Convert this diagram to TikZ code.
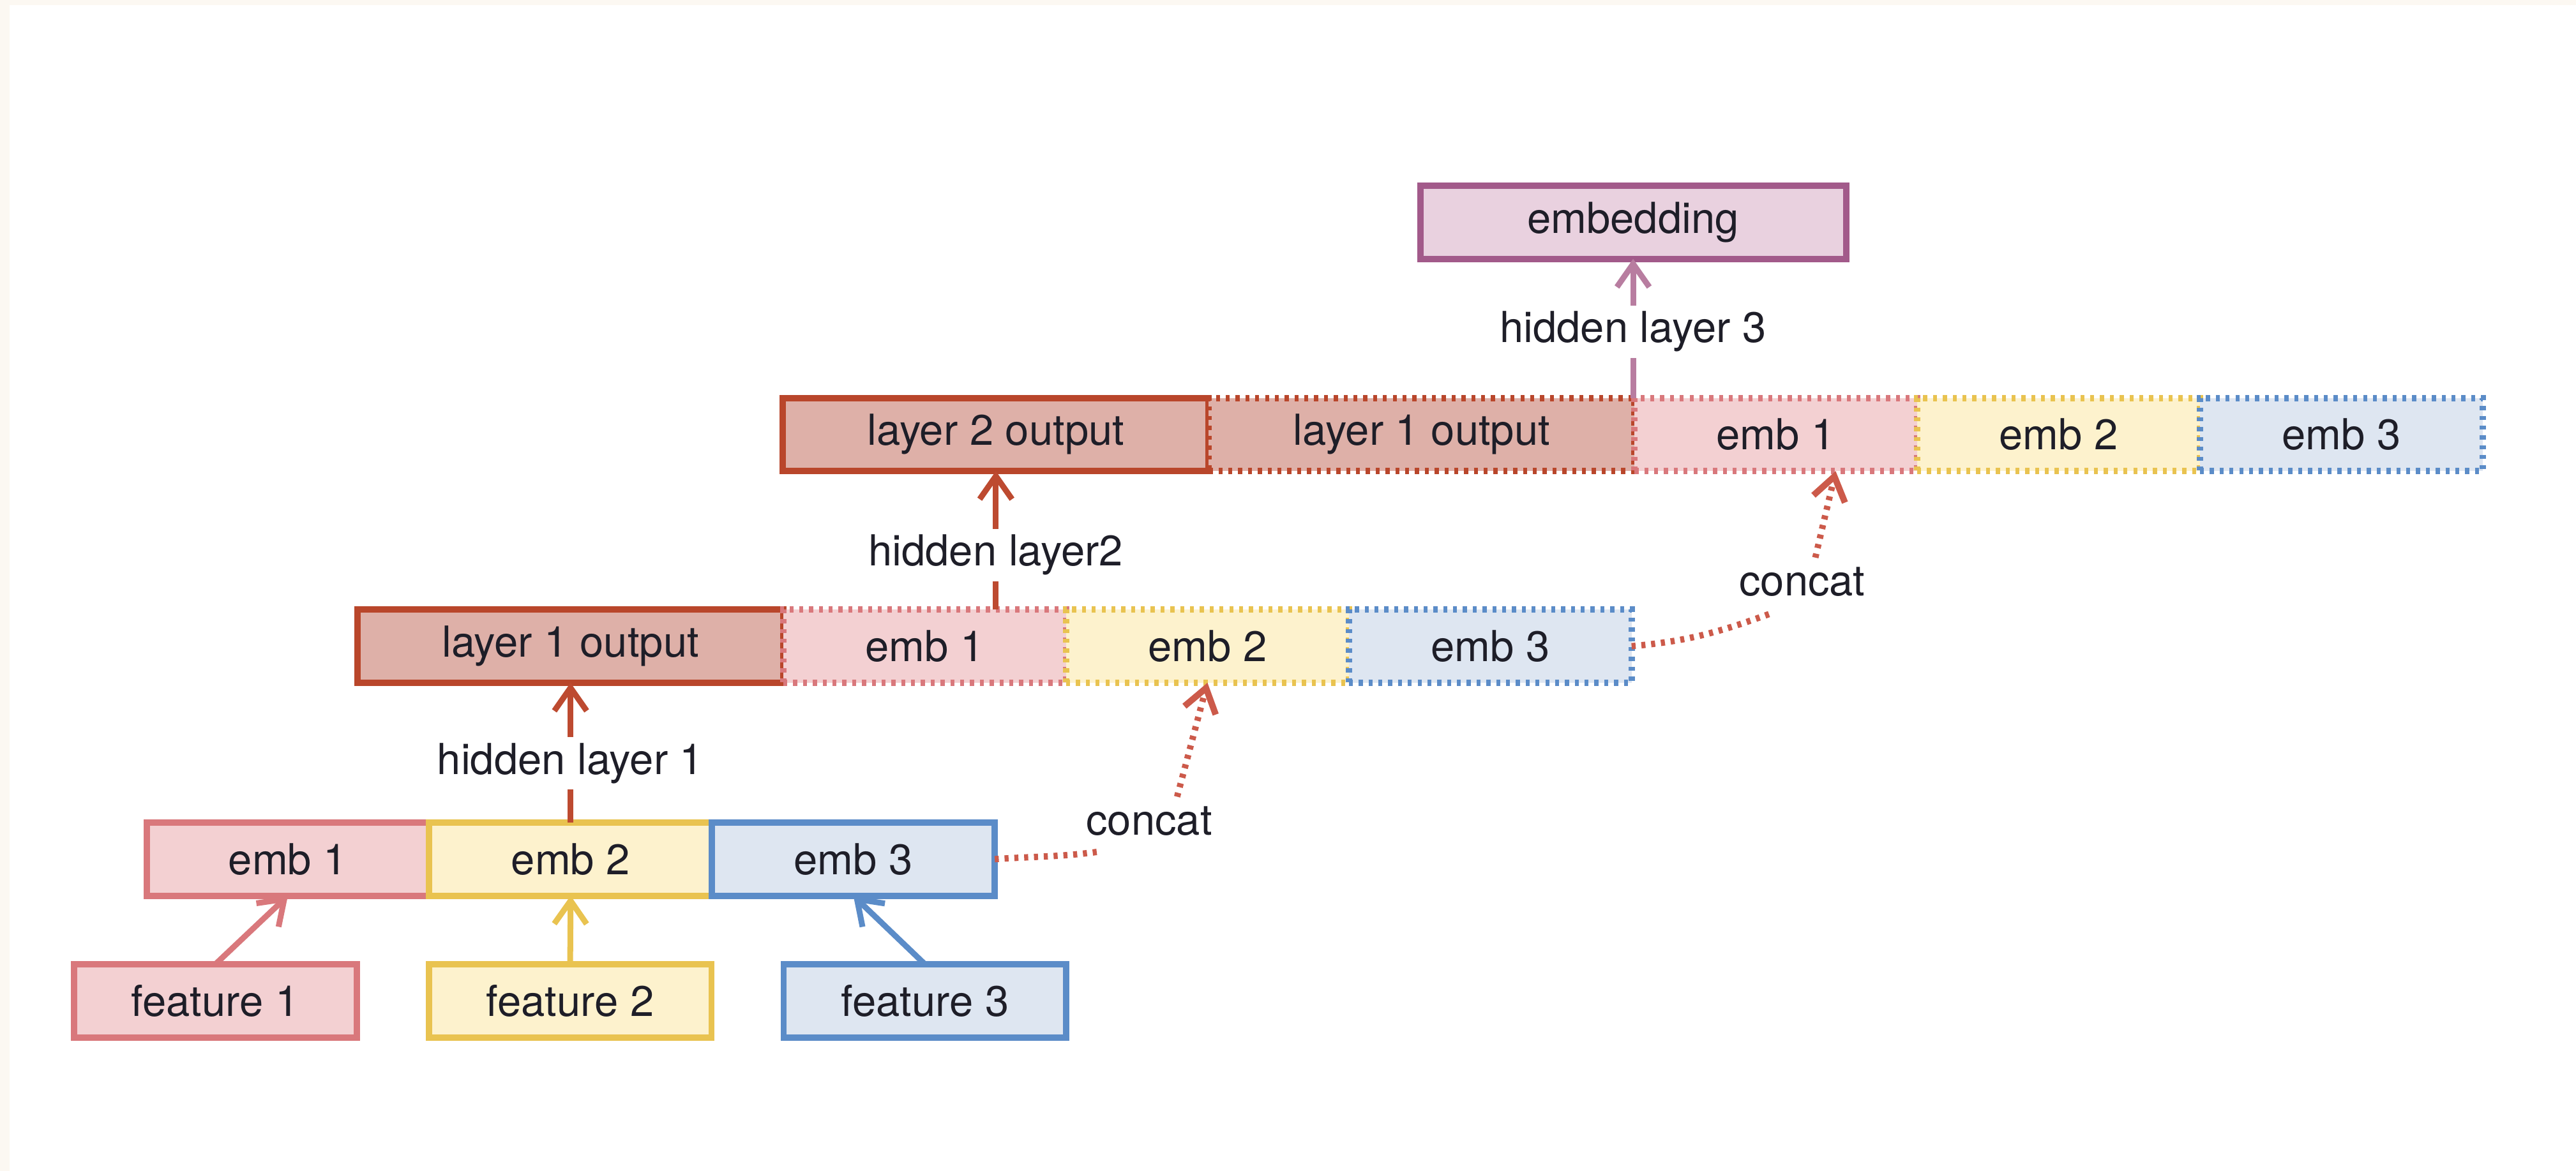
\documentclass[tikz,border=0pt]{standalone}
\usepackage{fontspec}
\setmainfont{TeX Gyre Heros}
\usetikzlibrary{arrows.meta,calc}

\definecolor{pinkF}{HTML}{F3D0D2}
\definecolor{pinkD}{HTML}{D9787C}
\definecolor{yelF}{HTML}{FDF2CD}
\definecolor{yelD}{HTML}{E9C350}
\definecolor{bluF}{HTML}{DEE6F1}
\definecolor{bluD}{HTML}{5B8CC8}
\definecolor{outF}{HTML}{DEB0A8}
\definecolor{outD}{HTML}{B9462B}
\definecolor{embF}{HTML}{E9D1DF}
\definecolor{embD}{HTML}{A25A8A}
\definecolor{hidA}{HTML}{BD4A30}
\definecolor{catA}{HTML}{CC5A4A}
\definecolor{topA}{HTML}{B87DA0}
\definecolor{txt}{HTML}{1E1E28}
\definecolor{margin}{HTML}{FCF8F2}

\begin{document}
\begin{tikzpicture}[x=0.01cm, y=0.01cm,
  font=\fontsize{7.4}{9}\selectfont, text=txt,
  box/.style={draw, line width=1.1pt, inner sep=0pt, outer sep=0pt, minimum height=0.445cm, anchor=west},
  narrow/.style={box, minimum width=1.72cm},
  wide/.style={box, minimum width=2.59cm},
  dotline/.style={line width=1.1pt, dash pattern=on 0.7pt off 1pt},
  dotbox/.style={dotline},
  pinkbox/.style={fill=pinkF, draw=pinkD},
  yelbox/.style={fill=yelF, draw=yelD},
  blubox/.style={fill=bluF, draw=bluD},
  outbox/.style={fill=outF, draw=outD},
  embbox/.style={fill=embF, draw=embD},
  lbl/.style={fill=white, inner sep=1.1pt, text height=5.3pt, text depth=1.55pt},
  tip/.style={-{Straight Barb[length=4pt,width=5.6pt]}},
  conn/.style={line width=1pt, tip},
]
% page and its off-white margin
\fill[white] (0,0) rectangle (1568,713);
\fill[margin] (0,709.9) rectangle (1568,713);
\fill[margin] (0,0) rectangle (5.8,713);
\useasboundingbox (0,0) rectangle (1568,713);

% input features
\node[narrow, pinkbox] (f1) at (45,103.5) {feature 1};
\node[narrow, yelbox]  (f2) at (261,103.5) {feature 2};
\node[narrow, blubox]  (f3) at (477,103.5) {feature 3};

% embeddings of the features
\node[narrow, pinkbox] (b1) at (89.2,189.8) {emb 1};
\node[narrow, yelbox]  (b2) at (b1.east) {emb 2};
\node[narrow, blubox]  (b3) at (b2.east) {emb 3};

% first concatenation
\node[wide, outbox] (m0) at (217.7,319.5) {layer 1 output};
\node[narrow, pinkbox, dotbox] (m1) at (m0.east) {emb 1};
\node[narrow, yelbox, dotbox]  (m2) at (m1.east) {emb 2};
\node[narrow, blubox, dotbox]  (m3) at (m2.east) {emb 3};

% second concatenation
\node[wide, outbox] (t0) at (476.6,448.4) {layer 2 output};
\node[wide, outbox, dotbox] (t1) at (t0.east) {layer 1 output};
\node[narrow, pinkbox, dotbox] (t2) at (t1.east) {emb 1};
\node[narrow, yelbox, dotbox]  (t3) at (t2.east) {emb 2};
\node[narrow, blubox, dotbox]  (t4) at (t3.east) {emb 3};

% final embedding
\node[wide, embbox] (emb) at (864.5,577.6) {embedding};

% feature lookups
\draw[conn, pinkD] (f1.north) -- (b1.south);
\draw[conn, yelD]  (f2.north) -- (b2.south);
\draw[conn, bluD]  (f3.north) -- (b3.south);

% hidden layers
\draw[conn, hidA] (m0.south |- b2.north) -- (m0.south);
\draw[conn, hidA] (t0.south |- m1.north) -- (t0.south);
\draw[conn, topA] (emb.south |- t1.north) -- (emb.south);
\node[lbl] (h1) at (347.2,248.1) {hidden layer 1};
\node[lbl] (h2) at (606.1,375) {hidden layer2};
\node[lbl] (h3) at (994,511) {hidden layer 3};

% concatenations
\node[lbl] (cc1) at (699.5,211.2) {concat};
\draw[catA, dotline] (b3.east) to[out=4, in=188] ($(cc1.south)+(-29,0)$);
\draw[catA, dotline, tip] ($(cc1.north)+(17,0)$) to[out=75, in=-105] (m2.south);

\node[lbl] (cc2) at (1097,356.8) {concat};
\draw[catA, dotline] (m3.east) to[out=5, in=200] ($(cc2.south)+(-17,0)$);
\draw[catA, dotline, tip] ($(cc2.north)+(8,0)$) to[out=77, in=-103] ($(t2.south)+(36.4,0)$);
\end{tikzpicture}
\end{document}
